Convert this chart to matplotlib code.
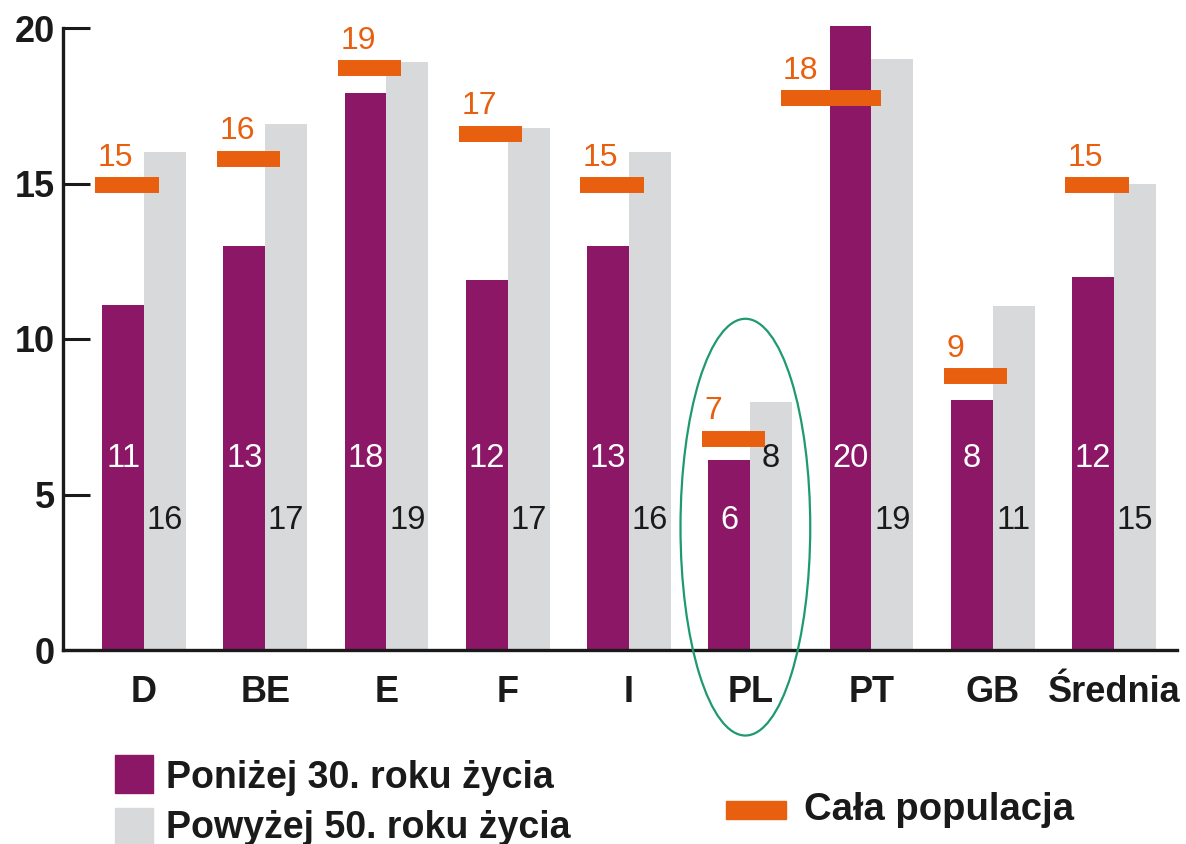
import matplotlib
matplotlib.use("Agg")
import matplotlib.pyplot as plt
from matplotlib.patches import Ellipse, Rectangle
import numpy as np

plt.rcParams['font.family'] = ['Liberation Sans', 'DejaVu Sans']

# ---- data ----
categories = ["D", "BE", "E", "F", "I", "PL", "PT", "GB", "Średnia"]
below30 = [11.1, 13.0, 17.9, 11.9, 13.0, 6.1, 20.05, 8.05, 12.0]
above50 = [16.0, 16.9, 18.9, 16.8, 16.0, 7.97, 19.0, 11.05, 15.0]
total = [14.95, 15.8, 18.7, 16.6, 14.95, 6.8, 17.75, 8.8, 14.95]
below30_labels = ["11", "13", "18", "12", "13", "6", "20", "8", "12"]
above50_labels = ["16", "17", "19", "17", "16", "8", "19", "11", "15"]
total_labels = ["15", "16", "19", "17", "15", "7", "18", "9", "15"]
yticks = [0, 5, 10, 15, 20]
legend_labels = ["Poniżej 30. roku życia", "Powyżej 50. roku życia", "Cała populacja"]

PURPLE = "#8C1767"
GRAY = "#D8D9DB"
ORANGE = "#E8600F"
GREEN = "#1F9A6E"
BLACK = "#1a1a1a"

W, H = 1186, 844
fig = plt.figure(figsize=(W / 100, H / 100), dpi=100)
ax = fig.add_axes([63 / W, 1 - 650 / H, (1177 - 63) / W, (650 - 28) / H])

x = np.arange(len(categories))
bw = 0.345
ax.bar(x - bw / 2, below30, width=bw, color=PURPLE, clip_on=False, zorder=2)
ax.bar(x + bw / 2, above50, width=bw, color=GRAY, clip_on=False, zorder=2)

# total population markers
left_off = np.full(len(categories), -0.40)
right_off = np.full(len(categories), 0.12)
left_off[6] = -0.75
right_off[6] = 0.08
ax.hlines(total, x + left_off, x + right_off, colors=ORANGE, linewidth=11.5,
          capstyle='butt', zorder=3, clip_on=False)
for i, (t, lab) in enumerate(zip(total, total_labels)):
    ax.text(x[i] + left_off[i] + 0.02, t + 0.62, lab, color=ORANGE, fontsize=23,
            ha='left', va='baseline', zorder=4)

# value labels
for i in range(len(categories)):
    yp, yg = 6.17, 4.18
    if categories[i] == "PL":
        yp, yg = 4.18, 6.17
    ax.text(x[i] - bw / 2, yp, below30_labels[i], color='white', fontsize=23.5,
            ha='center', va='center', zorder=4)
    ax.text(x[i] + bw / 2, yg, above50_labels[i], color=BLACK, fontsize=23.5,
            ha='center', va='center', zorder=4)

# ellipse around PL
ax.add_patch(Ellipse((4.96, 3.95), 1.07, 13.4, fill=False, edgecolor=GREEN,
                     linewidth=1.6, clip_on=False, zorder=5))

ax.set_xlim(-0.668, 8.52)
ax.set_ylim(0, 20)
ax.set_yticks(yticks)
ax.set_yticklabels([str(v) for v in yticks], fontsize=26, fontweight='bold', color=BLACK)
ax.set_xticks(x)
ax.set_xticklabels(categories, fontsize=26, fontweight='bold', color=BLACK)
ax.tick_params(axis='y', direction='in', length=19.5, width=2.2, pad=6, color=BLACK)
ax.tick_params(axis='x', length=0, pad=18)
for s in ['top', 'right']:
    ax.spines[s].set_visible(False)
for s in ['left', 'bottom']:
    ax.spines[s].set_linewidth(2.4)
    ax.spines[s].set_color(BLACK)

# legend (figure pixel overlay)
lg = fig.add_axes([0, 0, 1, 1], facecolor='none')
lg.set_xlim(0, W)
lg.set_ylim(H, 0)
lg.axis('off')
lg.add_patch(Rectangle((115, 755), 38, 38, color=PURPLE))
lg.add_patch(Rectangle((115, 808), 38, 40, color=GRAY, clip_on=False))
lg.add_patch(Rectangle((726, 801), 60, 18, color=ORANGE))
lg.text(166, 788, legend_labels[0], fontsize=27, fontweight='bold', color=BLACK,
        ha='left', va='baseline')
lg.text(166, 838, legend_labels[1], fontsize=27, fontweight='bold', color=BLACK,
        ha='left', va='baseline')
lg.text(804, 820, legend_labels[2], fontsize=27.5, fontweight='bold', color=BLACK,
        ha='left', va='baseline')

fig.savefig("out.png", dpi=100)
